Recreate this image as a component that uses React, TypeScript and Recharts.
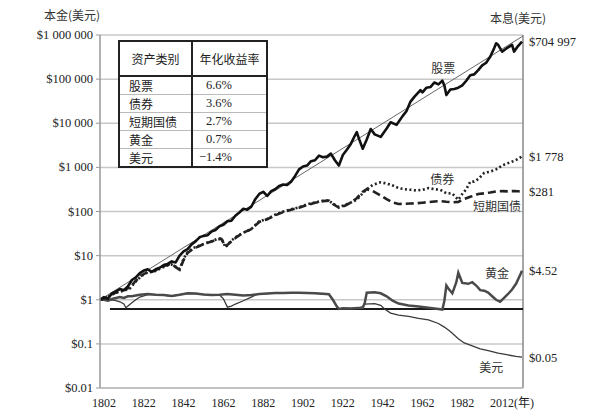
import React from 'react';
import { LineChart, Line, XAxis, YAxis, CartesianGrid, ReferenceDot, ReferenceLine } from 'recharts';

// stocks, real total return index ($1 invested in 1802)
const stockYears = [
  1800, 1802, 1804, 1806, 1808, 1810, 1812, 1814, 1816, 1818,
  1820, 1822, 1824, 1826, 1828, 1830, 1832, 1834, 1836, 1838,
  1840, 1842, 1844, 1846, 1848, 1850, 1852, 1854, 1856, 1858,
  1860, 1862, 1864, 1866, 1868, 1870, 1872, 1874, 1876, 1878,
  1880, 1882, 1884, 1886, 1888, 1890, 1892, 1894, 1896, 1898,
  1900, 1902, 1904, 1906, 1908, 1910, 1912, 1914, 1916, 1918,
  1920, 1922, 1924, 1926, 1928, 1929, 1930, 1932, 1934, 1936,
  1938, 1941, 1944, 1946, 1949, 1952, 1954, 1956, 1958, 1961,
  1962, 1964, 1966, 1968, 1970, 1972, 1973, 1974, 1976, 1978,
  1980, 1982, 1984, 1986, 1988, 1990, 1992, 1994, 1996, 1998,
  1999, 2000, 2002, 2004, 2006, 2007, 2008, 2010, 2012,
];
const stockValues = [
  1.0, 1.15, 1.05, 1.4, 1.55, 1.75, 1.65, 2.0, 2.8, 3.2,
  4.0, 4.6, 4.9, 4.3, 4.9, 5.3, 6.1, 6.5, 7.4, 7.0,
  10, 12.5, 14, 18, 21, 26, 28, 29, 35, 38,
  46, 50, 60, 62, 80, 95, 115, 110, 128, 190,
  250, 280, 225, 290, 320, 380, 410, 400, 470, 640,
  900, 1050, 1100, 1380, 1450, 1850, 1700, 1750, 2050, 1450,
  1100, 1900, 2500, 3400, 5200, 6300, 4600, 2650, 4300, 7400,
  5600, 4900, 7600, 10500, 9200, 14500, 19000, 31000, 40000, 56000,
  50000, 64000, 66000, 84000, 76000, 92000, 72000, 43500, 58000, 60000,
  64000, 72000, 92000, 123000, 128000, 160000, 205000, 235000, 320000, 500000,
  650000, 600000, 420000, 490000, 560000, 600000, 420000, 560000, 704997,
];

// 6.6% trend line
const trendYears = [1800, 2012.5];
const trendValues = [1.0, 950000];

// bonds (dotted) and bills (dashed)
const fixedYears = [
  1800, 1803, 1806, 1809, 1812, 1815, 1818, 1821, 1824, 1827,
  1830, 1833, 1836, 1838, 1840, 1842, 1844, 1847, 1850, 1853,
  1856, 1859, 1861, 1863, 1866, 1869, 1872, 1876, 1880, 1884,
  1888, 1892, 1896, 1900, 1904, 1908, 1912, 1915, 1917, 1920,
  1923, 1926, 1929, 1932, 1934, 1937, 1941, 1944, 1947, 1950,
  1953, 1956, 1959, 1962, 1965, 1968, 1971, 1974, 1977, 1980,
  1982, 1984, 1986, 1988, 1990, 1993, 1996, 1999, 2002, 2005,
  2008, 2010, 2012,
];
const bondValues = [
  1.0, 1.1, 1.3, 1.5, 1.6, 1.8, 2.6, 3.5, 4.2, 4.3,
  5.0, 5.8, 6.3, 5.6, 5.0, 8.5, 12, 15, 17, 19,
  21, 24, 25, 15.5, 22, 28, 33, 40, 60, 68,
  85, 100, 112, 125, 145, 160, 175, 178, 150, 125,
  140, 160, 185, 260, 320, 400, 460, 430, 390, 340,
  320, 310, 300, 310, 340, 320, 310, 260, 255, 185,
  250, 320, 470, 480, 540, 750, 800, 900, 1100, 1250,
  1400, 1550, 1778,
];
const billValues = [
  1.0, 1.12, 1.35, 1.5, 1.65, 1.9, 2.7, 3.6, 4.3, 4.5,
  5.2, 6.0, 6.5, 5.5, 4.8, 8.0, 11.5, 14.5, 16.5, 19,
  21, 23, 24, 16, 21, 27, 33, 40, 58, 67,
  82, 97, 110, 122, 140, 158, 172, 176, 148, 122,
  135, 160, 200, 280, 320, 290, 230, 190, 160, 148,
  150, 152, 154, 158, 163, 168, 172, 166, 162, 165,
  185, 200, 215, 230, 250, 258, 270, 285, 290, 285,
  292, 288, 281,
];

// gold and the dollar
const goldYears = [
  1800, 1802, 1804, 1806, 1808, 1810, 1812, 1814, 1816, 1818,
  1820, 1824, 1828, 1832, 1836, 1840, 1844, 1848, 1852, 1856,
  1860, 1864, 1868, 1872, 1876, 1880, 1884, 1888, 1892, 1896,
  1900, 1904, 1908, 1912, 1915, 1917, 1919, 1920, 1922, 1926,
  1930, 1932, 1933, 1934, 1938, 1941, 1944, 1947, 1950, 1955,
  1960, 1965, 1970, 1972, 1973, 1974, 1975, 1977, 1979, 1980,
  1982, 1985, 1987, 1989, 1991, 1993, 1995, 1997, 1999, 2001,
  2003, 2005, 2007, 2009, 2011, 2012,
];
const goldValues = [
  1.0, 1.0, 0.95, 1.05, 1.1, 1.15, 1.1, 1.2, 1.2, 1.25,
  1.3, 1.35, 1.3, 1.28, 1.22, 1.3, 1.4, 1.38, 1.32, 1.28,
  1.3, 1.35, 1.3, 1.25, 1.28, 1.35, 1.38, 1.42, 1.42, 1.45,
  1.45, 1.42, 1.4, 1.36, 1.33, 1.0, 0.7, 0.62, 0.64, 0.63,
  0.65, 0.66, 0.85, 1.45, 1.48, 1.4, 1.2, 0.95, 0.82, 0.74,
  0.7, 0.66, 0.62, 0.6, 0.95, 2.1, 1.8, 1.4, 2.5, 4.1,
  2.4, 2.3, 2.5, 2.1, 1.65, 1.6, 1.45, 1.2, 1.0, 0.9,
  1.1, 1.35, 1.7, 2.3, 3.6, 4.52,
];
const dollarYears = [
  1800, 1802, 1804, 1806, 1808, 1810, 1812, 1813, 1816, 1818,
  1820, 1824, 1828, 1832, 1836, 1840, 1844, 1848, 1852, 1856,
  1860, 1862, 1864, 1866, 1868, 1872, 1876, 1879, 1884, 1888,
  1892, 1896, 1900, 1904, 1908, 1912, 1915, 1917, 1919, 1920,
  1922, 1926, 1930, 1932, 1933, 1938, 1941, 1943, 1946, 1950,
  1955, 1960, 1965, 1970, 1973, 1976, 1980, 1983, 1987, 1991,
  1995, 2000, 2005, 2009, 2012,
];
const dollarValues = [
  1.0, 1.0, 0.95, 1.0, 0.95, 0.9, 0.8, 0.66, 0.85, 1.0,
  1.15, 1.3, 1.3, 1.28, 1.2, 1.3, 1.4, 1.38, 1.32, 1.26,
  1.3, 1.05, 0.68, 0.72, 0.8, 0.95, 1.15, 1.33, 1.38, 1.42,
  1.42, 1.45, 1.45, 1.42, 1.4, 1.36, 1.33, 1.0, 0.7, 0.62,
  0.64, 0.63, 0.65, 0.7, 0.8, 0.82, 0.75, 0.62, 0.5, 0.45,
  0.42, 0.38, 0.35, 0.29, 0.24, 0.19, 0.13, 0.105, 0.09, 0.077,
  0.07, 0.062, 0.056, 0.052, 0.05,
];

// flat black line under the gold/dollar series
const baseYears = [1805, 2012.5];
const baseValues = [0.62, 0.62];

const yTicks = [0.01, 0.1, 1, 10, 100, 1000, 10000, 100000, 1000000];
const xTicks = [1802, 1822, 1842, 1862, 1882, 1902, 1922, 1942, 1962, 1982, 2012];

const tableNames = ['股票', '债券', '短期国债', '黄金', '美元'];
const tableRates = ['6.6%', '3.6%', '2.7%', '0.7%', '−1.4%'];

const endLabels = [
  { year: 2012, value: 704997, text: '$704 997' },
  { year: 2012, value: 1778, text: '$1 778' },
  { year: 2012, value: 281, text: '$281' },
  { year: 2012, value: 4.52, text: '$4.52' },
  { year: 2012, value: 0.05, text: '$0.05' },
];
const seriesNotes = [
  { year: 1972.5, value: 170000, text: '股票' },
  { year: 1972, value: 520, text: '债券' },
  { year: 1999.5, value: 127, text: '短期国债' },
  { year: 1999.5, value: 3.8, text: '黄金' },
  { year: 1996.5, value: 0.029, text: '美元' },
];

const SERIF = '"Liberation Serif", "Noto Sans CJK SC", serif';
const CJK = '"Noto Sans CJK SC", sans-serif';

const sources: Record<string, [number[], number[]]> = {
  stocks: [stockYears, stockValues],
  trend: [trendYears, trendValues],
  bonds: [fixedYears, bondValues],
  bills: [fixedYears, billValues],
  gold: [goldYears, goldValues],
  dollar: [dollarYears, dollarValues],
  base: [baseYears, baseValues],
};

const rowMap = new Map<number, Record<string, number>>();
Object.entries(sources).forEach(([key, [ys, vs]]) => {
  ys.forEach((yr, i) => {
    const row = rowMap.get(yr) ?? { year: yr };
    row[key] = vs[i];
    rowMap.set(yr, row);
  });
});
const chartData = [...rowMap.values()].sort((a, b) => a.year - b.year);

const money = (v: number) =>
  v >= 1 ? '$' + String(v).replace(/\B(?=(\d{3})+(?!\d))/g, ' ') : '$' + v;

const YTick = ({ x, y, payload }: any) => (
  <text x={x} y={y} textAnchor="end" dominantBaseline="central" fontFamily={SERIF} fontSize={12.5} fill="#222">
    {money(payload.value)}
  </text>
);

const XTick = ({ x, y, payload }: any) => (
  <text
    x={payload.value === 2012 ? x - 10 : x}
    y={y + 15}
    textAnchor="middle"
    dominantBaseline="central"
    fontFamily={SERIF}
    fontSize={12}
    fill="#222"
  >
    {payload.value === 2012 ? '2012(年)' : payload.value}
  </text>
);

const cell: React.CSSProperties = { padding: 0, height: 17, lineHeight: '17px', fontSize: 12 };

export default function App() {
  return (
    <div style={{ position: 'absolute', left: 0, top: 0, width: 600, height: 420, background: '#fff' }}>
      <LineChart
        width={600}
        height={420}
        data={chartData}
        margin={{ top: 35, right: 77, bottom: 2, left: 0 }}
      >
        <CartesianGrid vertical={false} stroke="#c8c8c8" strokeWidth={1.5} />
        <XAxis
          dataKey="year"
          type="number"
          domain={[1800, 2012.5]}
          ticks={xTicks}
          tick={<XTick />}
          tickSize={0}
          tickMargin={0}
          height={30}
          axisLine={{ stroke: '#bbb', strokeWidth: 1.5 }}
        />
        <YAxis
          scale="log"
          domain={[0.01, 1000000]}
          ticks={yTicks}
          tick={<YTick />}
          tickSize={4}
          tickMargin={3}
          width={100}
          axisLine={{ stroke: '#999', strokeWidth: 1.5 }}
          tickLine={{ stroke: '#999' }}
        />
        <ReferenceLine x={2012.5} stroke="#888" strokeWidth={1.5} />
        <Line dataKey="base" stroke="#1a1a1a" strokeWidth={2} dot={false} connectNulls isAnimationActive={false} />
        <Line dataKey="dollar" stroke="#3a3a3a" strokeWidth={1.3} dot={false} connectNulls isAnimationActive={false} />
        <Line dataKey="gold" stroke="#4a4a4a" strokeWidth={2.5} dot={false} connectNulls isAnimationActive={false} />
        <Line dataKey="bills" stroke="#222" strokeWidth={2.6} strokeDasharray="8 4" dot={false} connectNulls isAnimationActive={false} />
        <Line dataKey="bonds" stroke="#222" strokeWidth={2.6} strokeDasharray="2 2.5" dot={false} connectNulls isAnimationActive={false} />
        <Line dataKey="trend" stroke="#666" strokeWidth={1} dot={false} connectNulls isAnimationActive={false} />
        <Line dataKey="stocks" stroke="#111" strokeWidth={2.6} strokeLinejoin="round" dot={false} connectNulls isAnimationActive={false} />
        {endLabels.map((l) => (
          <ReferenceDot
            key={l.text}
            x={l.year}
            y={l.value}
            r={1}
            fill="none"
            stroke="none"
            label={{ value: l.text, position: 'right', offset: 6, fill: '#222', fontSize: 12.5, fontFamily: SERIF }}
          />
        ))}
        {seriesNotes.map((n) => (
          <ReferenceDot
            key={n.text}
            x={n.year}
            y={n.value}
            r={1}
            fill="none"
            stroke="none"
            label={{ value: n.text, position: 'center', fill: '#333', fontSize: 12, fontFamily: CJK }}
          />
        ))}
      </LineChart>

      <div style={{ position: 'absolute', left: 44, top: 6, fontFamily: CJK, fontSize: 12, color: '#333' }}>本金(美元)</div>
      <div style={{ position: 'absolute', left: 490, top: 9, fontFamily: CJK, fontSize: 12, color: '#333' }}>本息(美元)</div>

      <table
        style={{
          position: 'absolute',
          left: 118,
          top: 40,
          width: 150,
          borderCollapse: 'collapse',
          background: '#fff',
          border: '2px solid #222',
          fontFamily: CJK,
          color: '#222',
        }}
      >
        <thead>
          <tr style={{ height: 33, borderBottom: '2px solid #222' }}>
            <th style={{ ...cell, height: 33, width: 71, fontWeight: 400, borderRight: '2px solid #222' }}>资产类别</th>
            <th style={{ ...cell, height: 33, fontWeight: 400 }}>年化收益率</th>
          </tr>
        </thead>
        <tbody>
          {tableNames.map((name, i) => (
            <tr key={name} style={{ borderTop: i > 0 ? '1px solid #bbb' : undefined }}>
              <td style={{ ...cell, paddingLeft: 9, borderRight: '2px solid #222' }}>{name}</td>
              <td style={{ ...cell, textAlign: 'right', paddingRight: 34, fontFamily: SERIF, fontSize: 12.5 }}>
                {tableRates[i]}
              </td>
            </tr>
          ))}
        </tbody>
      </table>
    </div>
  );
}
